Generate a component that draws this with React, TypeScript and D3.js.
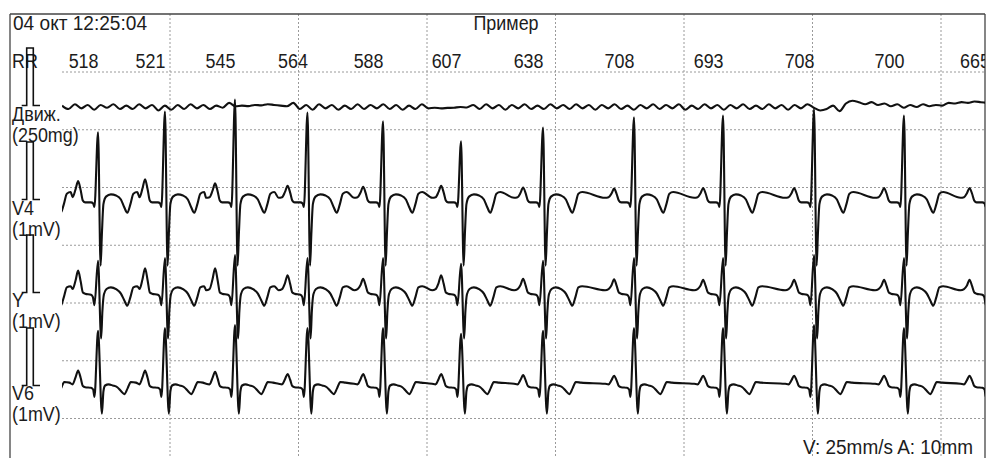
import React from 'react';
import * as d3 from 'd3';

// ---------- data ----------
const HEADER_DATE = '04 окт 12:25:04';
const TITLE = 'Пример';
const SPEED_LABEL = 'V: 25mm/s A: 10mm';
const RR_LABEL = 'RR';

// RR intervals (ms); label i is written right-aligned at beat i
const RR_MS = [518, 521, 545, 564, 588, 607, 638, 708, 693, 708, 700, 665];
const FIRST_BEAT_MS = 440; // time of the first labelled R peak
const GRID_SECONDS = [1, 2, 3, 4, 5, 6, 7];

// R amplitudes (mV) per beat
const V4_R = [1.17, 1.53, 1.74, 1.51, 1.36, 1.01, 1.25, 1.43, 1.46, 1.57, 1.46, 1.4];
const Y_R = [0.55, 0.6, 0.65, 0.6, 0.6, 0.5, 0.55, 0.6, 0.6, 0.65, 0.6, 0.6];
const V6_R = [0.95, 1.0, 1.05, 1.0, 1.0, 0.9, 0.95, 1.0, 1.0, 1.05, 1.0, 1.0];

// P-wave amplitudes (mV) before each beat
const V4_P = [0.32, 0.35, 0.28, 0.24, 0.22, 0.24, 0.21, 0.19, 0.2, 0.2, 0.2, 0.2];
const Y_P = [0.38, 0.42, 0.42, 0.3, 0.24, 0.3, 0.24, 0.23, 0.22, 0.22, 0.22, 0.22];
const V6_P = [0.26, 0.26, 0.24, 0.2, 0.2, 0.2, 0.18, 0.17, 0.17, 0.17, 0.17, 0.17];

// beat shape after each R peak: [ms after R, mV]
const V4_AFTER = [[20, -1.15], [30, -0.6], [42, -0.08], [62, 0.05], [100, 0.09], [140, 0.07], [178, 0.0], [203, -0.13], [228, -0.23], [252, -0.08], [275, 0.1], [305, 0.13]];
const Y_AFTER = [[24, -0.8], [34, -0.32], [46, -0.03], [66, 0.06], [100, 0.09], [140, 0.06], [178, -0.02], [203, -0.13], [228, -0.23], [252, -0.08], [275, 0.09], [305, 0.11]];
const V6_AFTER = [[30, -0.49], [42, -0.1], [55, 0.0], [82, 0.02], [115, 0.0], [150, -0.03], [180, -0.1], [205, -0.15], [230, -0.05], [255, 0.06], [295, 0.05]];

// beat shape before each R peak: [ms before R, mV]; P wave is added around P_OFFSET_MS
const V4_BEFORE = [[-225, 0.03], [-198, 0.04], [-118, -0.02], [-100, -0.05], [-55, -0.05], [-38, -0.07], [-28, -0.13]];
const Y_BEFORE = [[-225, 0.04], [-198, 0.06], [-118, 0.0], [-100, -0.02], [-55, -0.04], [-40, -0.08], [-28, -0.22]];
const V6_BEFORE = [[-225, 0.03], [-198, 0.02], [-118, -0.01], [-100, -0.03], [-55, -0.04], [-38, -0.07], [-28, -0.2]];
const P_OFFSET_MS = -155;
const P_HALF_WIDTH_MS = 20;

// movement channel (mg), one value every 50 ms from 160 ms
const MOVE_START_MS = 160;
const MOVE_STEP_MS = 50;
const MOVE_MG = [
  6, -9, 12, -6, 9, -12, 9, -3, 12, -9, 6, -9, 12, -6, 9, -15, 6, -12,
  9, -9, 12, -6, 9, -9, 6, -3, 18,
  3, 6, 4, 9, 7, 12, 9, 6, 3,
  18,
  -9, 9, -12, 12, -6, 9, -12, 6, -9, 12, -9, 9, -6, 12, -9, 9, -12, 6, -9, 12, -6,
  -3, -6, -4, -3, 0, -2,
  9, -9, 12, -6, 9, -12, 9, -6, 12, -9, 6, -9, 12, -6, 9,
  -9, 12, -6, 9, -12, 9, -6, 12, -9, 6, -12, 9, -6, 12, -9, 9, -6, 12, -12, 6, -9, 12, -6, 9, -12, 9, -6, 12, -9, 6, -9, 12, -6, 9, -12, 9,
  -6, 12, -3, -15, -9, 6, -18,
  15, 27, 21,
  12, 21, 9, 15, 3, 12, -3, 9, 0, 12, 3, 9,
  6, 18, 15, 21, 18, 24, 21, 18,
];

// ---------- layout ----------
const W = 988;
const H = 458;
const BOX_L = 10;
const BOX_R = 985;
const BOX_T = 14;
const TRACE_L = 62;
const PX_PER_UNIT = 57.5; // 1 mV / 250 mg
const HGRID_TOP = 72;
const HGRID_STEP = 57.75;
const HGRID_COUNT = 7;
const FONT = "'Liberation Sans', Arial, sans-serif";
const TXT = '#1c1c1c';
const SX = 0.92;

const Txt = ({ x, y, anchor = 'start', width, children }: any) => (
  <text
    transform={`translate(${x},${y}) scale(${SX},1)`}
    textAnchor={anchor}
    fontFamily={FONT}
    fontSize={19.5}
    fill={TXT}
    {...(width ? { textLength: width / SX, lengthAdjust: 'spacingAndGlyphs' } : {})}
  >
    {children}
  </text>
);

export default function App() {
  const x = d3.scaleLinear().domain([0, 7000]).range([41.5, 941]);

  // beat times: virtual beat before the first one, then labelled beats
  const beatTimes: number[] = [FIRST_BEAT_MS - RR_MS[0]];
  let acc = FIRST_BEAT_MS;
  RR_MS.forEach((rr, i) => {
    if (i > 0) acc += rr;
    beatTimes.push(acc);
  });

  const leads = [
    { name: 'V4', unit: '(1mV)', base: 199.5, r: V4_R, p: V4_P, after: V4_AFTER, before: V4_BEFORE, ly: [215, 236] },
    { name: 'Y', unit: '(1mV)', base: 292.5, r: Y_R, p: Y_P, after: Y_AFTER, before: Y_BEFORE, ly: [307, 328] },
    { name: 'V6', unit: '(1mV)', base: 385.5, r: V6_R, p: V6_P, after: V6_AFTER, before: V6_BEFORE, ly: [400, 421] },
  ];

  const buildPoints = (lead: any) => {
    const pts: [number, number][] = [];
    let last = -Infinity;
    beatTimes.forEach((T, b) => {
      const amp = lead.r[Math.max(b - 1, 0)];
      if (b > 0) {
        const p = lead.p[b - 1];
        const before = [
          ...lead.before,
          [P_OFFSET_MS - P_HALF_WIDTH_MS, p * 0.55],
          [P_OFFSET_MS, p],
          [P_OFFSET_MS + P_HALF_WIDTH_MS, p * 0.5],
        ].sort((a: any, c: any) => a[0] - c[0]);
        before.forEach(([dt, v]: any) => {
          if (T + dt > last + 8) pts.push([T + dt, v]);
        });
      }
      pts.push([T, amp]);
      last = T;
      if (b < beatTimes.length - 1) {
        lead.after.forEach(([dt, v]: any) => {
          pts.push([T + dt, v]);
          last = T + dt;
        });
      }
    });
    return pts;
  };

  const moveBase = 107;
  const yMove = d3.scaleLinear().domain([-250, 250]).range([moveBase + PX_PER_UNIT, moveBase - PX_PER_UNIT]);
  const movePts: [number, number][] = MOVE_MG.map((v, i) => [MOVE_START_MS + i * MOVE_STEP_MS, v]);
  const moveLine = d3.line<[number, number]>().x((d) => x(d[0])).y((d) => yMove(d[1])).curve(d3.curveMonotoneX);

  const pulse = (base: number, top: number) =>
    `M21.7,${base}H26.7V${top}H33.3V${base}H40`;

  const hLines = d3.range(HGRID_COUNT).map((k) => HGRID_TOP + k * HGRID_STEP);

  return (
    <svg width={W} height={H} style={{ position: 'absolute', left: 0, top: 0, background: '#fff' }}>
      <defs>
        <clipPath id="box">
          <rect x={BOX_L} y={BOX_T} width={BOX_R - BOX_L} height={H} />
        </clipPath>
        <clipPath id="trace">
          <rect x={TRACE_L} y={BOX_T} width={BOX_R - TRACE_L} height={H} />
        </clipPath>
      </defs>
      <rect x={0} y={0} width={W} height={H} fill="#fff" />

      {/* grid */}
      <g stroke="#9a9a9a" strokeWidth={1} strokeDasharray="2,2" fill="none">
        {GRID_SECONDS.map((s) => (
          <line key={'v' + s} x1={x(s * 1000)} x2={x(s * 1000)} y1={BOX_T} y2={H} />
        ))}
        {hLines.map((y, i) => (
          <line key={'h' + i} x1={TRACE_L} x2={BOX_R} y1={y} y2={y} />
        ))}
      </g>

      {/* frame */}
      <g stroke="#444" strokeWidth={1.3} fill="none">
        <line x1={BOX_L} x2={BOX_R} y1={BOX_T} y2={BOX_T} />
        <line x1={BOX_L} x2={BOX_L} y1={BOX_T} y2={H + 2} />
        <line x1={BOX_R} x2={BOX_R} y1={BOX_T} y2={H + 2} />
      </g>

      {/* header texts */}
      <Txt x={13} y={30} width={134}>{HEADER_DATE}</Txt>
      <Txt x={506} y={30} anchor="middle">{TITLE}</Txt>
      <Txt x={12} y={68}>{RR_LABEL}</Txt>
      <g clipPath="url(#box)">
        {RR_MS.map((rr, i) => (
          <Txt key={i} x={x(beatTimes[i + 1]) + 0.5} y={68} anchor="end">{rr}</Txt>
        ))}
      </g>

      {/* lead labels */}
      <Txt x={12} y={121}>Движ.</Txt>
      <Txt x={12} y={142}>(250mg)</Txt>
      {leads.map((l) => (
        <g key={l.name}>
          <Txt x={12} y={l.ly[0]}>{l.name}</Txt>
          <Txt x={12} y={l.ly[1]}>{l.unit}</Txt>
        </g>
      ))}

      {/* calibration pulses */}
      <g stroke="#111" strokeWidth={1.6} fill="none">
        <path d={pulse(yMove(0) - 1.5, yMove(250) - 1.5)} />
        {leads.map((l) => {
          const y = d3.scaleLinear().domain([-1, 1]).range([l.base + PX_PER_UNIT, l.base - PX_PER_UNIT]);
          return <path key={l.name} d={pulse(y(0), y(1))} />;
        })}
      </g>

      {/* traces */}
      <g clipPath="url(#trace)" fill="none" stroke="#111" strokeWidth={2.1} strokeLinejoin="round">
        <path d={moveLine(movePts) || ''} />
        {leads.map((l) => {
          const y = d3.scaleLinear().domain([-1, 1]).range([l.base + PX_PER_UNIT, l.base - PX_PER_UNIT]);
          const ln = d3.line<[number, number]>().x((d) => x(d[0])).y((d) => y(d[1])).curve(d3.curveMonotoneX);
          return <path key={l.name} d={ln(buildPoints(l)) || ''} />;
        })}
      </g>

      <Txt x={973} y={454} anchor="end" width={170}>{SPEED_LABEL}</Txt>
    </svg>
  );
}
